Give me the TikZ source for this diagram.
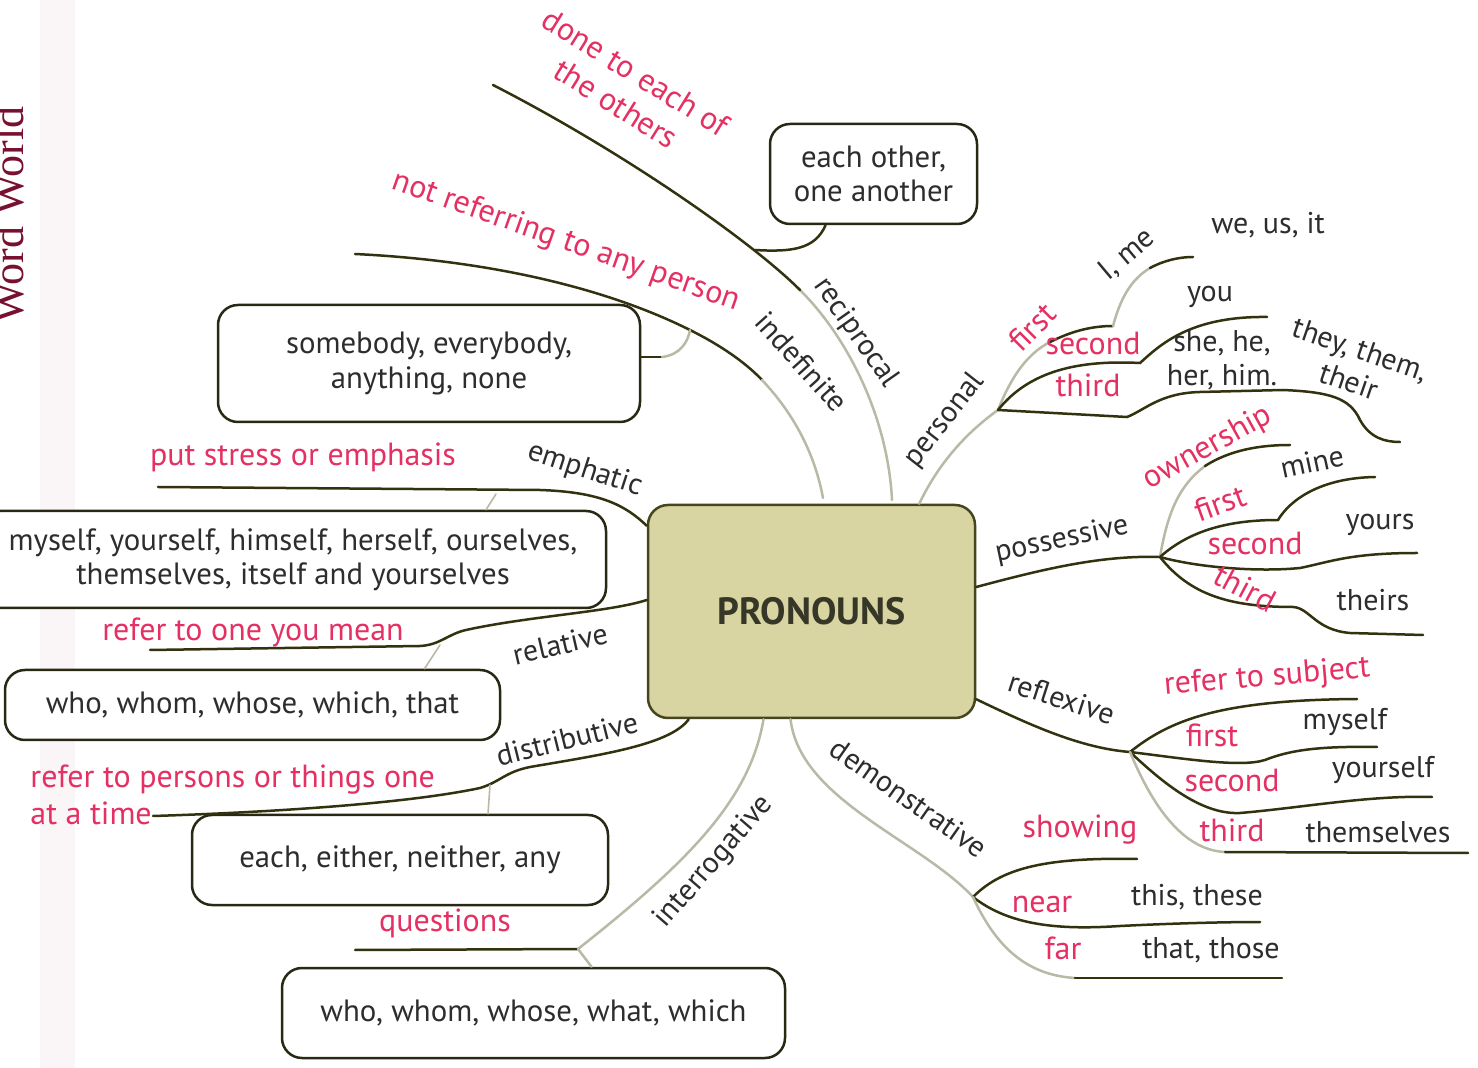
\documentclass[tikz,border=0pt]{standalone}
\usepackage{fontspec}
\setmainfont{PT Sans}
\newfontfamily\wwfont{Liberation Serif}
\definecolor{redtxt}{RGB}{228,48,98}
\definecolor{blacktxt}{RGB}{45,45,45}
\definecolor{linedark}{RGB}{50,50,15}
\definecolor{linegrey}{RGB}{185,185,165}
\definecolor{boxline}{RGB}{40,40,20}
\definecolor{centerfill}{RGB}{216,213,163}
\definecolor{centerline}{RGB}{70,70,30}
\definecolor{pron}{RGB}{55,55,40}
\definecolor{wwred}{RGB}{120,16,48}
\definecolor{bandpink}{RGB}{250,245,247}
\newcommand\lbl{\fontsize{15}{17}\selectfont}
\newcommand\boxfont{\fontsize{15.4}{17.2}\selectfont}
\newcommand\redfont{\fontsize{16}{18.5}\selectfont}
\begin{document}
\begin{tikzpicture}[x=0.5pt,y=-0.5pt,
  ln/.style={draw=linedark, line width=1.25pt, line cap=round},
  lg/.style={draw=linegrey, line width=1.25pt, line cap=round},
  bx/.style={draw=boxline, line width=1.25pt, rounded corners=10pt, fill=white, inner sep=0pt, align=center, text=blacktxt, font=\boxfont},
  rl/.style={text=redtxt, font=\redfont, inner sep=0pt, align=center},
  bl/.style={text=blacktxt, font=\lbl, inner sep=0pt, align=center}]
\useasboundingbox (0,0) rectangle (1478,1068);
\fill[white] (0,0) rectangle (1478,1068);
\fill[bandpink] (40,0) rectangle (75,1068);
\node[rotate=90, anchor=base, text=wwred, font=\wwfont\fontsize{22}{26}\selectfont, inner sep=0pt] (ww) at (24,215) {Word World};

% ---------- boxes ----------
\node[bx, minimum width=103.5pt, minimum height=50pt] (eo) at (873.5,174) {each other,\\one another};
\node[bx, minimum width=211pt, minimum height=58.5pt] (sb) at (429,363.5) {somebody, everybody,\\anything, none};
\node[bx, minimum width=313pt, minimum height=48.5pt] (my) at (293,559.5) {myself, yourself, himself, herself, ourselves,\\themselves, itself and yourselves};
\node[bx, minimum width=247.5pt, minimum height=35pt] (wh) at (252.5,705) {who, whom, whose, which, that};
\node[bx, minimum width=208pt, minimum height=45pt] (ea) at (400,860) {each, either, neither, any};
\node[bx, minimum width=251.5pt, minimum height=45pt] (qu) at (533.5,1013) {who, whom, whose, what, which};
\node[draw=centerline, fill=centerfill, line width=1.25pt, rounded corners=10pt, minimum width=163.5pt, minimum height=106.5pt, font=\fontsize{19}{23}\selectfont\bfseries, text=pron] (P) at (811.5,611.5) {PRONOUNS};

% ---------- coordinates ----------
\coordinate (rc0) at (892,500);
\coordinate (rc1) at (800,290);
\coordinate (rc2) at (493,85);
\coordinate (rcJ) at (755,250);
\coordinate (eoC) at ([xshift=-24pt]eo.south);
\coordinate (in0) at (355,254);
\coordinate (in1) at (690,330);
\coordinate (in2) at (762,380);
\coordinate (in3) at (823,498);
\coordinate (sbC) at ([yshift=3.25pt]sb.east);
\coordinate (sbK) at (662,357);
\coordinate (em0) at (158,487);
\coordinate (em1) at (540,490);
\coordinate (em2) at ([yshift=-11pt]P.north west);
\coordinate (myT) at ([xshift=96.5pt]my.north);
\coordinate (emJ) at (496,494);
\coordinate (rl0) at (150,650);
\coordinate (rl1) at (420,646);
\coordinate (rl2) at ([yshift=5.75pt]P.west);
\coordinate (whT) at ([xshift=86pt]wh.north);
\coordinate (rlJ) at (440,645);
\coordinate (ds0) at ([xshift=21pt]P.south west);
\coordinate (ds1) at (153,816);
\coordinate (dsJ) at (490,785);
\coordinate (eaT) at ([xshift=44pt]ea.north);
\coordinate (ig0) at ([xshift=-24pt]P.south);
\coordinate (ig1) at (578,949);
\coordinate (ig2) at (355,950);
\coordinate (quT) at ([xshift=29pt]qu.north);
\coordinate (dm0) at ([xshift=-10.5pt]P.south);
\coordinate (dmN) at (973,897);
\coordinate (dmS) at (1137,859);
\coordinate (dmE) at (1260,922);
\coordinate (dmF) at (1282,978);
\coordinate (rf0) at ([yshift=10pt]P.south east);
\coordinate (rfN) at (1130,752);
\coordinate (rfA) at (1357,699);
\coordinate (rfB) at (1377,747);
\coordinate (rfC) at (1432,797);
\coordinate (rfD) at (1468,853);
\coordinate (ps0) at ([yshift=12.25pt]P.east);
\coordinate (psN) at (1160,557);
\coordinate (psA) at (1290,445);
\coordinate (psB) at (1375,477);
\coordinate (psC) at (1417,553);
\coordinate (psD) at (1423,635);
\coordinate (pe0) at ([xshift=-28.5pt]P.north east);
\coordinate (peN) at (998,410);
\coordinate (peA) at (1193,257);
\coordinate (peB) at (1267,317);
\coordinate (peC) at (1400,442);

% ---------- branches ----------
% reciprocal
\draw[lg] (rc0) .. controls (888,420) and (850,340) .. (rc1);
\draw[ln] (rc1) .. controls (750,240) and (620,150) .. (rc2);
\draw[ln] (eoC) .. controls (815,250) and (790,252) .. (rcJ);
% indefinite
\draw[ln] (in0) .. controls (480,260) and (600,285) .. (in1) .. controls (720,345) and (745,362) .. (in2);
\draw[lg] (in2) .. controls (795,415) and (815,455) .. (in3);
\draw[ln] (sbC) -- (sbK);
\draw[lg] (sbK) .. controls (680,355) and (688,342) .. (in1);
% emphatic
\draw[ln] (em0) -- (em1) .. controls (600,492) and (625,505) .. (em2);
\draw[lg, line width=0.8pt] (myT) -- (emJ);
% relative
\draw[ln] (rl0) -- (rl1) .. controls (440,645) and (448,634) .. (466,630) .. controls (530,616) and (610,612) .. (rl2);
\draw[lg, line width=0.8pt] (whT) -- (rlJ);
% distributive
\draw[ln] (ds0) .. controls (670,745) and (600,755) .. (530,767) .. controls (505,772) and (500,782) .. (480,788) .. controls (400,805) and (250,813) .. (ds1);
\draw[lg, line width=0.8pt] (dsJ) -- (eaT);
% interrogative
\draw[lg] (ig0) .. controls (750,800) and (688,862) .. (ig1);
\draw[ln] (ig1) -- (ig2);
\draw[lg] (ig1) -- (quT);
% demonstrative
\draw[lg] (dm0) .. controls (800,800) and (920,840) .. (dmN);
\draw[ln] (dmN) .. controls (1000,870) and (1040,857) .. (dmS);
\draw[ln] (dmN) .. controls (1010,926) and (1060,930) .. (1120,926) .. controls (1180,923) and (1230,922) .. (dmE);
\draw[lg] (dmN) .. controls (995,945) and (1025,975) .. (1075,978);
\draw[ln] (1075,978) -- (dmF);
% reflexive
\draw[ln] (rf0) .. controls (1030,725) and (1080,748) .. (rfN);
\draw[ln] (rfN) .. controls (1170,720) and (1220,700) .. (rfA);
\draw[ln] (rfN) .. controls (1180,758) and (1240,768) .. (1265,760) .. controls (1290,750) and (1320,746) .. (rfB);
\draw[ln] (rfN) .. controls (1160,780) and (1200,815) .. (1240,813) .. controls (1300,808) and (1370,795) .. (rfC);
\draw[lg] (rfN) .. controls (1150,800) and (1180,850) .. (1225,852);
\draw[ln] (1225,852) -- (rfD);
% possessive
\draw[ln] (ps0) .. controls (1040,570) and (1100,555) .. (psN);
\draw[lg] (psN) .. controls (1168,510) and (1180,485) .. (1205,466);
\draw[ln] (1205,466) .. controls (1230,450) and (1260,445) .. (psA);
\draw[ln] (psN) .. controls (1190,530) and (1230,520) .. (1278,520) .. controls (1290,500) and (1320,478) .. (psB);
\draw[ln] (psN) .. controls (1200,568) and (1260,572) .. (1300,568) .. controls (1330,562) and (1350,553) .. (psC);
\draw[ln] (psN) .. controls (1190,595) and (1230,607) .. (1293,607) .. controls (1310,608) and (1315,630) .. (1350,633) -- (psD);
% personal
\draw[lg] (pe0) .. controls (940,460) and (970,430) .. (peN);
\draw[lg] (peN) .. controls (1010,380) and (1025,355) .. (1050,342);
\draw[ln] (1050,342) .. controls (1070,332) and (1090,326) .. (1113,326);
\draw[lg] (1113,326) .. controls (1120,300) and (1130,280) .. (1150,268);
\draw[ln] (1150,268) .. controls (1165,260) and (1180,257) .. (peA);
\draw[ln] (peN) .. controls (1030,370) and (1080,360) .. (1140,363) .. controls (1160,345) and (1190,316) .. (peB);
\draw[ln] (peN) -- (1127,417) .. controls (1145,410) and (1160,393) .. (1200,392) -- (1283,390) .. controls (1330,392) and (1350,398) .. (1360,420) .. controls (1370,438) and (1385,442) .. (peC);

% ---------- branch labels ----------
\node[bl, rotate=-55] (lrc) at (856,333) {reciprocal};
\node[bl, rotate=-48] (lin) at (802,362) {indefinite};
\node[bl, rotate=52] (lpe) at (945,420) {personal};
\node[bl, rotate=-18] (lem) at (585,470) {emphatic};
\node[bl, rotate=13] (lrl) at (560,644) {relative};
\node[bl, rotate=14] (lds) at (567,739) {distributive};
\node[bl, rotate=49] (lig) at (714,862) {interrogative};
\node[bl, rotate=-35] (ldm) at (909,798) {demonstrative};
\node[bl, rotate=-18] (lrf) at (1062,698) {reflexive};
\node[bl, rotate=12] (lps) at (1062,540) {possessive};

% ---------- red labels ----------
\node[rl, rotate=-32] (r1) at (626,88) {done to each of\\the others};
\node[rl, rotate=-19.5] (r2) at (566,242) {not referring to any person};
\node[rl] (r3) at (303,457) {put stress or emphasis};
\node[rl] (r4) at (253,632) {refer to one you mean};
\node[rl, align=left, anchor=west] (r5) at (30,795) {refer to persons or things one\\at a time};
\node[rl] (r6) at (445,923) {questions};
\node[rl] (r7) at (1080,830) {showing};
\node[rl] (r8) at (1042,905) {near};
\node[rl] (r9) at (1063,948) {far};
\node[rl, rotate=5] (r10) at (1267,678) {refer to subject};
\node[rl] (r11) at (1212,735) {first};
\node[rl] (r12) at (1232,780) {second};
\node[rl] (r13) at (1232,830) {third};
\node[rl, rotate=29] (r14) at (1208,448) {ownership};
\node[rl, rotate=20] (r15) at (1220,503) {first};
\node[rl] (r16) at (1255,543) {second};
\node[rl, rotate=-28] (r17) at (1245,588) {third};
\node[rl, rotate=45] (r18) at (1032,327) {first};
\node[rl] (r19) at (1093,343) {second};
\node[rl] (r20) at (1088,385) {third};

% ---------- leaf texts ----------
\node[bl, rotate=40] (t1) at (1127,255) {I, me};
\node[bl] (t2) at (1268,225) {we, us, it};
\node[bl] (t3) at (1210,297) {you};
\node[bl] (t4) at (1222,360) {she, he,\\her, him.};
\node[bl, rotate=-19] (t5) at (1355,365) {they, them,\\their};
\node[bl, rotate=12] (t6) at (1312,462) {mine};
\node[bl] (t7) at (1380,525) {yours};
\node[bl] (t8) at (1373,600) {theirs};
\node[bl] (t9) at (1345,722) {myself};
\node[bl] (t10) at (1383,770) {yourself};
\node[bl] (t11) at (1378,832) {themselves};
\node[bl] (t12) at (1197,897) {this, these};
\node[bl] (t13) at (1211,950) {that, those};
\end{tikzpicture}
\end{document}
